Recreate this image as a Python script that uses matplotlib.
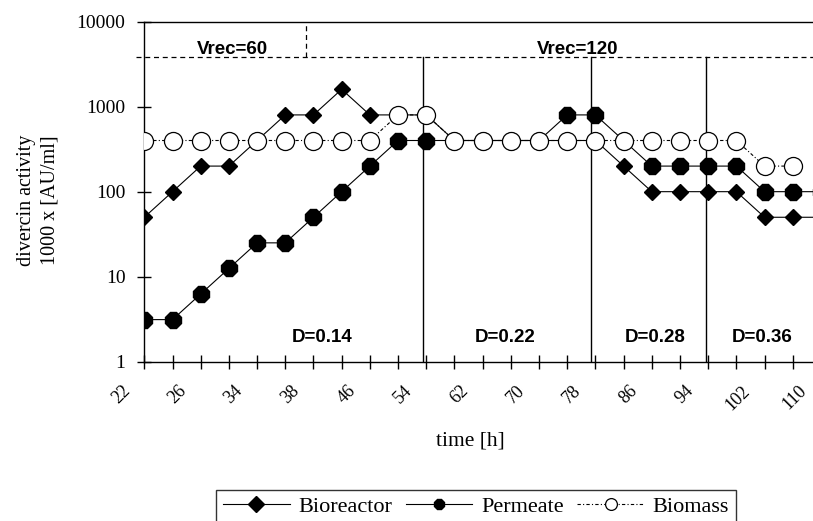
import matplotlib
matplotlib.use("Agg")
import matplotlib.pyplot as plt
import matplotlib.transforms as mtransforms
import numpy as np

# time points (h) - categorical axis, every second one labelled
time_h = [22, 24, 26, 30, 34, 36, 38, 42, 46, 50, 54, 58, 62,
          66, 70, 74, 78, 82, 86, 90, 94, 98, 102, 106, 110]

bioreactor = [50, 100, 200, 200, 400, 800, 800, 1600, 800, 800, 800, 400, 400,
              400, 400, 400, 400, 200, 100, 100, 100, 100, 50, 50, 50]
permeate = [3.125, 3.125, 6.25, 12.5, 25, 25, 50, 100, 200, 400, 400, 400, 400,
            400, 400, 800, 800, 400, 200, 200, 200, 200, 100, 100, 100]
biomass = [400, 400, 400, 400, 400, 400, 400, 400, 400, 800, 800, 400, 400,
           400, 400, 400, 400, 400, 400, 400, 400, 400, 200, 200]

# phase boundaries (category index) and labels
d_bounds = [9.89, 15.83, 19.91]
d_labels = ["D=0.14", "D=0.22", "D=0.28", "D=0.36"]
d_pos = [6.29, 12.79, 18.11, 21.93]
vrec_bound = 5.73
vrec_labels = ["Vrec=60", "Vrec=120"]
vrec_pos = [3.14, 15.38]
band_level = 3800

serif = "Liberation Serif"
sans = "Liberation Sans"

fig = plt.figure(figsize=(8.13, 5.21), dpi=100)
ax = fig.add_axes([0.1775, 0.3058, 0.8323, 0.6526])

x = np.arange(len(time_h))

ax.plot(x, bioreactor, color="black", lw=0.8, marker="D", ms=8.5,
        mfc="black", mec="black", label="Bioreactor", zorder=3)
ax.plot(x, permeate, color="black", lw=0.8, marker="8", ms=13,
        mfc="black", mec="black", label="Permeate", zorder=4)
ax.plot(x[:len(biomass)], biomass, color="black", lw=0.8, ls=(0, (3, 2, 1, 2)),
        marker="o", ms=13, mfc="white", mec="black", mew=0.9,
        label="Biomass", zorder=5)

ax.set_yscale("log")
ax.set_ylim(1, 10000)
ax.set_xlim(0, len(time_h) - 1)

# phase markers
ax.plot([-0.3, len(time_h) - 1], [band_level, band_level], color="black",
        lw=0.9, ls=(0, (4, 3)), clip_on=False)
ax.plot([vrec_bound, vrec_bound], [band_level, 10000], color="black",
        lw=0.9, ls=(0, (4, 3)))
for b in d_bounds:
    ax.plot([b, b], [1, band_level], color="black", lw=1.0)

for lab, p in zip(d_labels, d_pos):
    ax.text(p, 1.9, lab, ha="center", va="center", fontsize=13.5,
            fontweight="bold", family=sans)
for lab, p in zip(vrec_labels, vrec_pos):
    ax.text(p, 4650, lab, ha="center", va="center", fontsize=13.5,
            fontweight="bold", family=sans)

# axes styling
ax.spines["right"].set_visible(False)
ax.spines["top"].set_linewidth(1.0)
ax.spines["left"].set_linewidth(1.0)
ax.spines["bottom"].set_linewidth(1.0)

ax.set_yticks([1, 10, 100, 1000, 10000])
ax.set_yticklabels(["1", "10", "100", "1000", "10000"])
ax.yaxis.set_minor_locator(matplotlib.ticker.NullLocator())
ax.tick_params(axis="y", direction="inout", length=10, width=1, pad=8.5,
               labelsize=14)
for t in ax.get_yticklabels():
    t.set_family(serif)

ax.set_xticks(x)
ax.set_xticklabels([str(t) if i % 2 == 0 else "" for i, t in enumerate(time_h)],
                   rotation=45, ha="right")
ax.tick_params(axis="x", direction="inout", length=10, width=1, pad=10,
               labelsize=13)
offset = mtransforms.ScaledTranslation(-11 / 100, 0, fig.dpi_scale_trans)
for t in ax.get_xticklabels():
    t.set_family(serif)
    t.set_transform(t.get_transform() + offset)

fig.text(38 / 813, 1 - 200 / 521, "divercin activity\n1000 x [AU/ml]",
         rotation=90, ha="center", va="center", fontsize=14.5, family=serif,
         linespacing=1.3)
fig.text(470 / 813, 1 - 441 / 521, "time [h]", ha="center", va="center",
         fontsize=15.5, family=serif)

leg = ax.legend(loc="upper center", bbox_to_anchor=(476 / 813, 1 - 490 / 521),
                bbox_transform=fig.transFigure, ncol=3, frameon=True,
                fancybox=False, prop={"family": serif, "size": 16},
                handlelength=3.0, handletextpad=0.4, columnspacing=0.6,
                borderpad=0.3, borderaxespad=0)
leg.get_frame().set_edgecolor("black")
leg.get_frame().set_linewidth(1.0)
for h in leg.legend_handles:
    h.set_markersize(8.5)

fig.savefig("out.png", dpi=100)
